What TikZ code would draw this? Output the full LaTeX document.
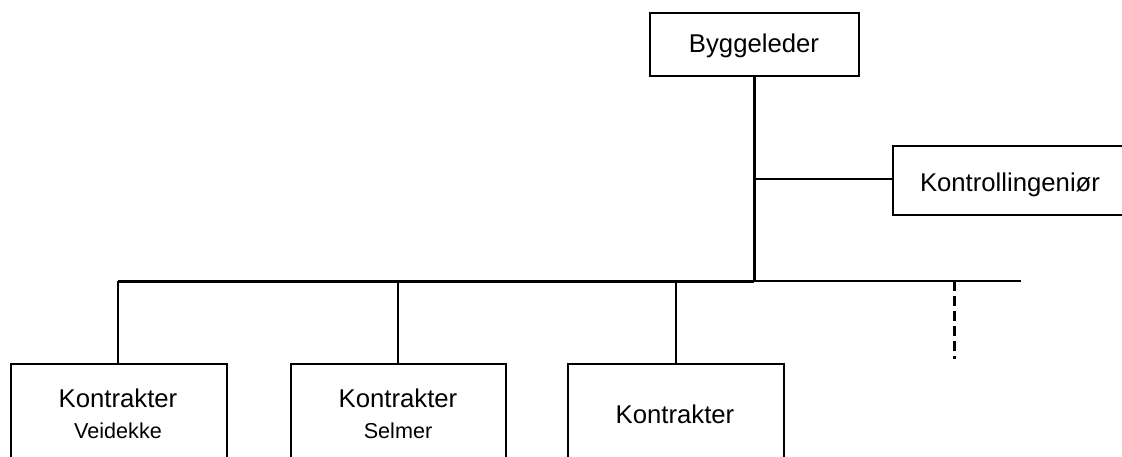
\documentclass[tikz,border=0pt]{standalone}
\usepackage{fontspec}
\setmainfont{Liberation Sans}
\begin{document}
\begin{tikzpicture}[x=1pt,y=-1pt,
  box/.style={draw,line width=2pt,rectangle,inner sep=0pt,anchor=north west},
  big/.style={font=\fontsize{25.7}{30}\selectfont,anchor=base,inner sep=0pt},
  small/.style={font=\fontsize{21.6}{26}\selectfont,anchor=base,inner sep=0pt},
  wire/.style={line width=2pt},
  trunk/.style={line width=3pt}]
\useasboundingbox (0,0) rectangle (1122,457);
\clip (0,0) rectangle (1122,457);

% top-level boxes
\node[box,minimum width=209pt,minimum height=63pt] (bl) at (649,12) {};
\node[big] (blt) at (754,53) {Byggeleder};
\node[box,minimum width=240pt,minimum height=69pt] (ki) at (892,145) {};
\node[big] (kit) at (1010,192) {Kontrollingeniør};

% contractor boxes (run past the lower edge)
\node[box,minimum width=216pt,minimum height=120pt] (k1) at (10,363) {};
\node[box,minimum width=215pt,minimum height=120pt] (k2) at (290,363) {};
\node[box,minimum width=216pt,minimum height=120pt] (k3) at (567,363) {};
\node[big] (k1a) at (118,407) {Kontrakter};
\node[small] (k1b) at (118,438) {Veidekke};
\node[big] (k2a) at (398,407) {Kontrakter};
\node[small] (k2b) at (398,438) {Selmer};
\node[big] (k3a) at (675,423) {Kontrakter};

% bus coordinates
\coordinate (trunkend) at (754,281);
\coordinate (busL) at (118,281);
\coordinate (busR) at (1021,281);
\coordinate (tap1) at (118,281);
\coordinate (tap2) at (398,281);
\coordinate (tap3) at (676,281);
\coordinate (tap4) at (954,281);
\coordinate (tap4end) at (954,359);
\coordinate (kitap) at (754,179);

% trunk from Byggeleder down to the bus
\draw[trunk] (bl.south -| trunkend) -- (trunkend);
\draw[trunk] (busL) -- (trunkend);
\draw[wire] (trunkend) -- (busR);
\draw[wire] (kitap) -- (ki.west |- kitap);

% drops to contractors
\draw[wire] (tap1) -- (k1.north -| tap1);
\draw[wire] (tap2) -- (k2.north -| tap2);
\draw[wire] (tap3) -- (k3.north -| tap3);
\draw[line width=3pt,dash pattern=on 10pt off 5pt] (tap4) -- (tap4end);
\end{tikzpicture}
\end{document}
